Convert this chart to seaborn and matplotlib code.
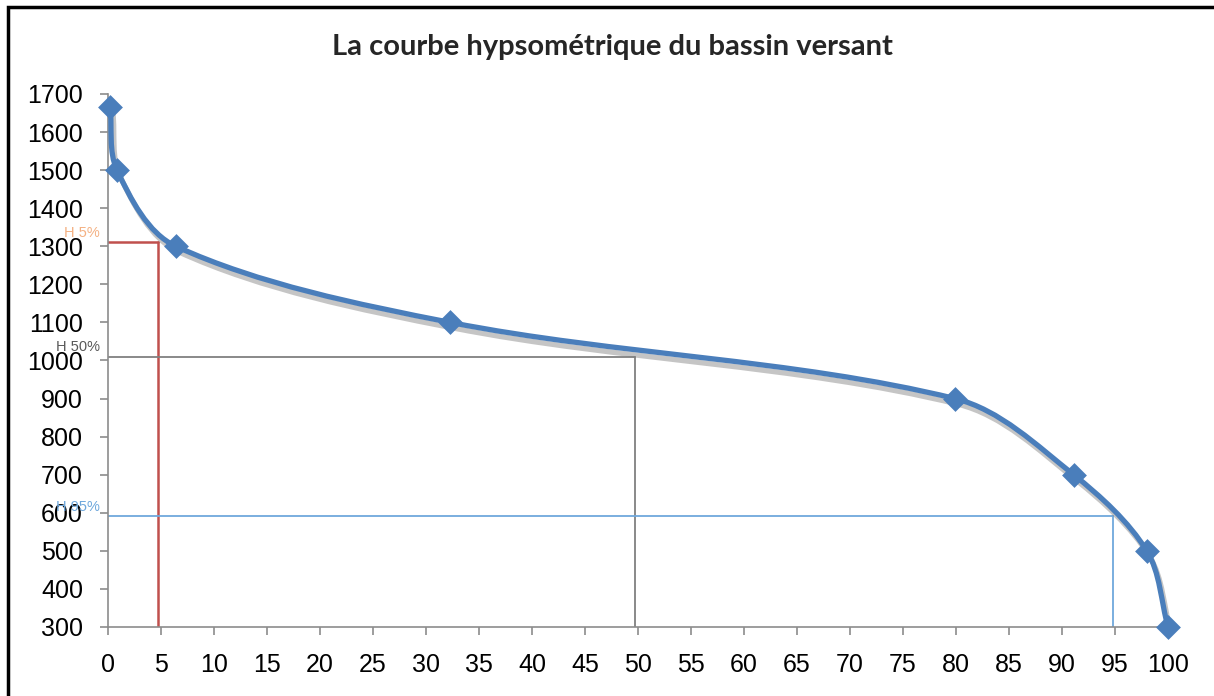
"""
Hypsometric curve of the catchment (courbe hypsométrique du bassin versant)
"""

import numpy as np
import matplotlib
matplotlib.use('Agg')
import matplotlib.pyplot as plt
import matplotlib.patheffects as pe
from matplotlib.path import Path
from matplotlib.patches import PathPatch, Rectangle
import seaborn as sns
import pandas as pd

# Data: cumulative area (%) vs altitude (m)
area_pct = [0.2, 0.85, 6.4, 32.3, 79.9, 91.1, 98.0, 100.0]
altitude = [1665, 1500, 1300, 1100, 900, 700, 500, 300]

# Characteristic altitudes: (label, area %, altitude, line colour, text colour)
h_labels = ['H 5%', 'H 50%', 'H 95%']
h_area = [4.7, 49.7, 94.8]
h_alt = [1310, 1010, 592]
h_line_colors = ['#C0504D', '#808080', '#6FA8DC']
h_text_colors = ['#F4B183', '#595959', '#6FA8DC']

x_ticks = list(range(0, 101, 5))
y_ticks = list(range(300, 1701, 100))

LINE_COLOR = '#4A7EBB'

df = pd.DataFrame({'area': area_pct, 'alt': altitude})

sns.set_style('white')
plt.rcParams['font.family'] = ['Liberation Sans', 'DejaVu Sans']

fig = plt.figure(figsize=(12.14, 6.96), dpi=100)
ax = fig.add_axes([108 / 1214, 1 - 627 / 696, 1060 / 1214, 533 / 696])
ax.set_xlim(0, 100)
ax.set_ylim(300, 1700)

# Reference lines for H5%, H50%, H95%
for lab, xa, ya, lc, tc in zip(h_labels, h_area, h_alt, h_line_colors, h_text_colors):
    lw = 1.8 if lc == '#C0504D' else 1.3
    ax.plot([0, xa], [ya, ya], color=lc, lw=lw, zorder=2)
    ax.plot([xa, xa], [300, ya], color=lc, lw=lw, zorder=2)
    ax.text(-0.8, ya + 6, lab, color=tc, fontsize=10.5, ha='right', va='bottom', zorder=3)

# Excel-style smoothed line: cubic Bezier, tangents scaled by chord length in pixel space
sx = 1060 / 100.0
sy = 533 / 1400.0
pts = np.column_stack([np.array(area_pct) * sx, np.array(altitude) * sy]).astype(float)
n = len(pts)
verts = [pts[0]]
codes = [Path.MOVETO]
for i in range(n - 1):
    p0 = pts[i - 1] if i > 0 else pts[i]
    p1 = pts[i]
    p2 = pts[i + 1]
    p3 = pts[i + 2] if i + 2 < n else pts[i + 1]
    d01 = np.linalg.norm(p1 - p0)
    d12 = np.linalg.norm(p2 - p1)
    d23 = np.linalg.norm(p3 - p2)
    t1 = (p2 - p0) * (d12 / (d01 + d12)) / 3.0 if d01 > 0 else (p2 - p1) / 3.0
    t2 = (p3 - p1) * (d12 / (d12 + d23)) / 3.0 if d23 > 0 else (p2 - p1) / 3.0
    verts += [p1 + t1, p2 - t2, p2]
    codes += [Path.CURVE4] * 3
verts = np.array(verts) / np.array([sx, sy])
curve = PathPatch(Path(verts, codes), facecolor='none', edgecolor=LINE_COLOR,
                  lw=3.8, zorder=4, clip_on=False, capstyle='round')
curve.set_path_effects([pe.SimpleLineShadow(offset=(2, -4), shadow_color='#7F7F7F', alpha=0.45, rho=0.3),
                        pe.Normal()])
ax.add_patch(curve)

# Diamond markers
sns.scatterplot(data=df, x='area', y='alt', marker='D', s=160, color=LINE_COLOR,
                edgecolor=LINE_COLOR, linewidth=0, ax=ax, zorder=5, clip_on=False,
                legend=False)

ax.set_xticks(x_ticks)
ax.set_yticks(y_ticks)
ax.set_xlabel('')
ax.set_ylabel('')
ax.tick_params(axis='both', which='both', direction='out', length=6, width=1.2,
               color='#8C8C8C', labelcolor='black', labelsize=18, bottom=True, left=True)
ax.tick_params(axis='x', pad=13)
ax.tick_params(axis='y', pad=12)
for side in ['top', 'right']:
    ax.spines[side].set_visible(False)
for side in ['left', 'bottom']:
    ax.spines[side].set_color('#8C8C8C')
    ax.spines[side].set_linewidth(1.2)

fig.text(612 / 1214, 1 - 47 / 696, 'La courbe hypsométrique du bassin versant',
         ha='center', va='center', fontsize=21, fontweight='bold',
         family=['Lato', 'DejaVu Sans'])

# Chart border
fig.patches.append(Rectangle((8 / 1214, -0.02), 1.2, 1 - 7 / 696 + 0.02,
                             transform=fig.transFigure, fill=False,
                             edgecolor='black', lw=2.5, zorder=10))

plt.savefig('out.png', dpi=100)
